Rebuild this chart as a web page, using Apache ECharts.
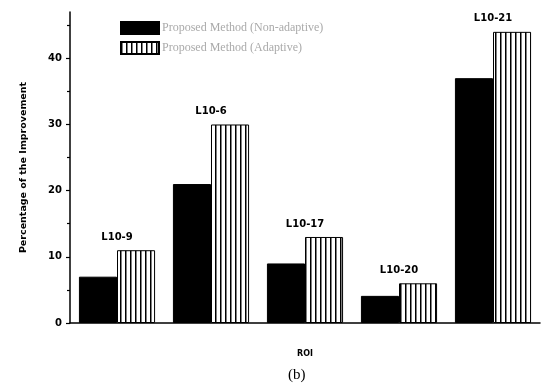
<!DOCTYPE html>
<html>
<head>
<meta charset="utf-8">
<script src="https://cdn.jsdelivr.net/npm/echarts@6/dist/echarts.min.js"></script>
<style>html,body{margin:0;padding:0;background:#fff}#c{width:541px;height:387px}</style>
</head>
<body>
<div id="c"></div>
<script>
const categories = ['L10-9', 'L10-6', 'L10-17', 'L10-20', 'L10-21'];
const groupLabels = ['L10-9', 'L10-6', 'L10-17', 'L10-20', 'L10-21'];
const nonAdaptive = [7, 21, 9, 4.1, 37];
const adaptive = [11, 30, 13, 6, 44];
const seriesNames = ['Proposed Method (Non-adaptive)', 'Proposed Method (Adaptive)'];
const yMajorTicks = [0, 10, 20, 30, 40];
const yMinorTicks = [5, 15, 25, 35, 45];

const pc = document.createElement('canvas');
pc.width = 5; pc.height = 4;
const g = pc.getContext('2d');
g.fillStyle = '#fff'; g.fillRect(0, 0, 5, 4);
g.fillStyle = '#000'; g.fillRect(0, 0, 1.5, 4);
const stripe = { image: pc, repeat: 'repeat' };

const chart = echarts.init(document.getElementById('c'), null, { renderer: 'canvas' });
chart.setOption({
  animation: false,
  backgroundColor: '#fff',
  grid: { left: 70, right: 1, top: 12, bottom: 64, containLabel: false },
  legend: {
    left: 115, top: 16, orient: 'vertical', itemWidth: 38, itemHeight: 12, itemGap: 6,
    icon: 'rect',
    textStyle: { fontFamily: 'Liberation Serif', fontSize: 12, color: '#aaa', padding: [0, 0, 0, -2] },
    data: seriesNames
  },
  xAxis: [{
    type: 'category', data: categories,
    name: 'ROI', nameLocation: 'middle', nameGap: 27,
    nameTextStyle: { fontFamily: 'DejaVu Sans', fontWeight: 'bold', fontSize: 8, color: '#000' },
    axisLine: { lineStyle: { color: '#000', width: 1.5 } },
    axisTick: { alignWithLabel: true, length: 5, lineStyle: { color: '#000', width: 1.2 } },
    axisLabel: { show: false }
  }, {
    type: 'category', data: categories, position: 'bottom',
    axisLine: { show: false },
    axisTick: { length: 2, lineStyle: { color: '#000', width: 1.5 } },
    axisLabel: { show: false }
  }],
  yAxis: [{
    type: 'value', min: 0, max: 47, interval: 10,
    name: 'Percentage of the Improvement', nameLocation: 'middle', nameGap: 41,
    nameTextStyle: { fontFamily: 'DejaVu Sans', fontWeight: 'bold', fontSize: 9.5, color: '#000' },
    axisLine: { show: true, lineStyle: { color: '#000', width: 1.5 } },
    axisTick: { show: true, length: 4, customValues: yMajorTicks, lineStyle: { color: '#000', width: 1.2 } },
    axisLabel: { customValues: yMajorTicks, margin: 8, fontFamily: 'DejaVu Sans', fontWeight: 'bold', fontSize: 10, color: '#000' },
    splitLine: { show: false }
  }, {
    type: 'value', min: 0, max: 47, position: 'left',
    axisLine: { show: false },
    axisTick: { show: true, length: 3, customValues: yMinorTicks, lineStyle: { color: '#000', width: 1.2 } },
    axisLabel: { show: false },
    splitLine: { show: false }
  }],
  series: [{
    name: seriesNames[0], type: 'bar', data: nonAdaptive,
    barGap: '0%', barCategoryGap: '19%',
    itemStyle: { color: '#000', borderColor: '#000', borderWidth: 1 }
  }, {
    name: seriesNames[1], type: 'bar', data: adaptive,
    barGap: '0%', barCategoryGap: '19%',
    itemStyle: { color: stripe, borderColor: '#000', borderWidth: 1 },
    label: {
      show: true, position: 'top', distance: 8, offset: [-19, 0],
      formatter: p => groupLabels[p.dataIndex],
      fontFamily: 'DejaVu Sans', fontWeight: 'bold', fontSize: 10, color: '#000'
    }
  }],
  graphic: [{
    type: 'text', left: 288, top: 368,
    style: { text: '(b)', font: '15px "Liberation Serif"', fill: '#000' }
  }]
});
</script>
</body>
</html>
